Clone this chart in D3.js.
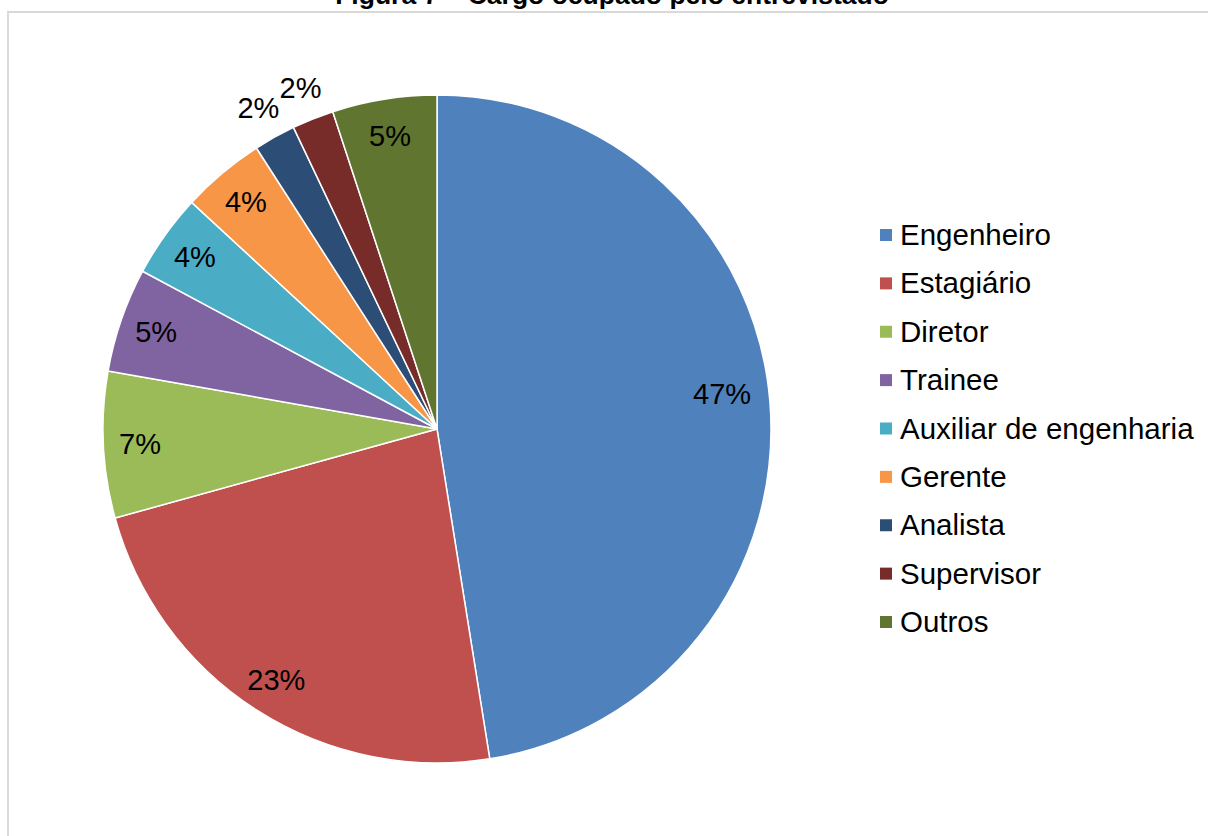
<!DOCTYPE html>
<html>
<head>
<meta charset="utf-8">
<script src="https://cdn.jsdelivr.net/npm/d3@7/dist/d3.min.js"></script>
<style>
  html, body { margin: 0; padding: 0; background: #fff; overflow: hidden; }
  svg { display: block; font-family: "Liberation Sans", Arial, sans-serif; }
</style>
</head>
<body>
<svg id="chart" width="1208" height="836"></svg>
<script>
// Cargo ocupado pelo entrevistado (contagem de respostas)
const categories = ["Engenheiro", "Estagiário", "Diretor", "Trainee", "Auxiliar de engenharia",
                    "Gerente", "Analista", "Supervisor", "Outros"];
const values = [47, 23, 7, 5, 4, 4, 2, 2, 5];
const colors = ["#4F81BD", "#C0504D", "#9BBB59", "#8064A2", "#4BACC6",
                "#F79646", "#2C4D75", "#772C2A", "#5F7530"];
const outsideLabels = ["Analista", "Supervisor"];
const titleText = "Figura 7 – Cargo ocupado pelo entrevistado";

const svg = d3.select("#chart");
const W = 1208, H = 836;

// chart frame
svg.append("rect")
  .attr("x", 8).attr("y", 12)
  .attr("width", W + 20).attr("height", H + 20)
  .attr("fill", "#fff")
  .attr("stroke", "#d9d9d9").attr("stroke-width", 2);

// caption above the frame
svg.append("text")
  .attr("x", 612).attr("y", 4)
  .attr("text-anchor", "middle")
  .attr("font-weight", "bold")
  .attr("font-size", 26.5)
  .attr("fill", "#000")
  .text(titleText);

const cx = 437, cy = 429, R = 334;
const data = categories.map((c, i) => ({ name: c, value: values[i] }));
const total = d3.sum(values);

const color = d3.scaleOrdinal().domain(categories).range(colors);
const pie = d3.pie().value(d => d.value).sort(null);
const arcs = pie(data);

const arc = d3.arc().innerRadius(0).outerRadius(R);
const labelArcIn = d3.arc().innerRadius(R * 0.89).outerRadius(R * 0.89);
const labelArcOut = d3.arc().innerRadius(R * 1.1).outerRadius(R * 1.1);
const labelArcBig = d3.arc().innerRadius(R * 0.86).outerRadius(R * 0.86);

const g = svg.append("g").attr("transform", `translate(${cx},${cy})`);

g.selectAll("path.slice")
  .data(arcs)
  .join("path")
  .attr("class", "slice")
  .attr("d", arc)
  .attr("fill", d => color(d.data.name))
  .attr("stroke", "#fff")
  .attr("stroke-width", 1.5)
  .attr("stroke-linejoin", "round");

// percentage labels; the largest slice's label sits a little above its mid-angle
g.selectAll("text.pct")
  .data(arcs)
  .join("text")
  .attr("class", "pct")
  .attr("transform", d => {
    let x, y;
    if (outsideLabels.includes(d.data.name)) {
      [x, y] = labelArcOut.centroid(d);
    } else if (d.data.value / total > 0.3) {
      const shifted = { startAngle: d.startAngle, endAngle: d.endAngle - 0.09 };
      [x, y] = labelArcBig.centroid(shifted);
    } else {
      [x, y] = labelArcIn.centroid(d);
    }
    return `translate(${x},${y})`;
  })
  .attr("text-anchor", "middle")
  .attr("dy", "0.36em")
  .attr("font-size", 29)
  .attr("fill", "#000")
  .text(d => Math.round(d.data.value / total * 100) + "%");

// legend
const legendY = d3.scalePoint().domain(categories).range([235, 622]);
const lg = svg.append("g");
const rows = lg.selectAll("g.row")
  .data(categories)
  .join("g")
  .attr("class", "row")
  .attr("transform", d => `translate(880,${legendY(d)})`);

rows.append("rect")
  .attr("x", 0).attr("y", -6)
  .attr("width", 12).attr("height", 12)
  .attr("fill", d => color(d));

rows.append("text")
  .attr("x", 20).attr("y", 10)
  .attr("font-size", 29.5)
  .attr("fill", "#000")
  .text(d => d);
</script>
</body>
</html>
